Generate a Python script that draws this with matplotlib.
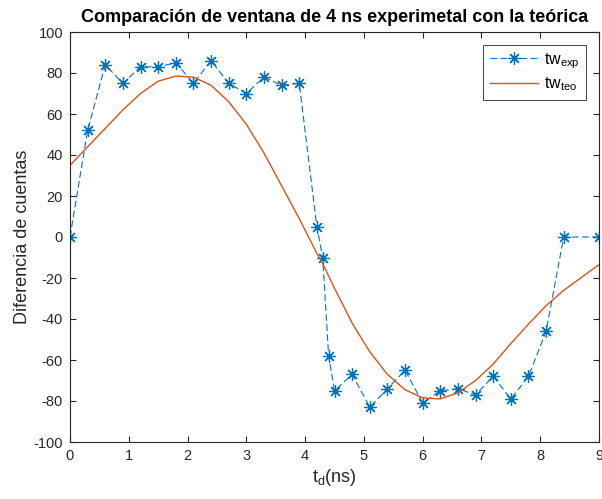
import matplotlib
matplotlib.use("Agg")
import matplotlib.pyplot as plt

plt.rcParams['font.family'] = ['Liberation Sans', 'DejaVu Sans']
plt.rcParams['axes.unicode_minus'] = False

# Delay times (ns)
td = [0, 0.3, 0.6, 0.9, 1.2, 1.5, 1.8, 2.1, 2.4, 2.7, 3.0, 3.3, 3.6, 3.9,
      4.2, 4.3, 4.4, 4.5, 4.8, 5.1, 5.4, 5.7, 6.0, 6.3, 6.6, 6.9, 7.2, 7.5,
      7.8, 8.1, 8.4, 9.0]

# Measured count difference
tw_exp = [0, 52, 84, 75, 83, 83, 85, 75, 86, 75, 70, 78, 74, 75,
          5, -10, -58, -75, -67, -83, -74, -65, -81, -75, -74, -77, -68, -79,
          -68, -46, 0, 0]

# Theoretical count difference
tw_teo = [35, 44, 53, 62, 70, 76, 78.5, 78, 74, 66, 55, 41, 25, 9,
          -8, -13, -19, -25, -42, -56, -67, -74.5, -78.5, -79, -76, -70, -62, -52,
          -42.5, -33.5, -26, -13.5]

fig = plt.figure(figsize=(6.02, 4.99), dpi=100)
ax = fig.add_axes([70 / 602, 57 / 499, 529 / 602, 410 / 499])

# asterisk marker: eight spokes (a plus and a cross)
ast = (8, 2, 0)
ax.plot(td, tw_exp, linestyle='--', color='#0072BD', marker=ast, markersize=9,
        markeredgewidth=0.9, linewidth=0.8, dashes=(6, 3), label=r'tw$_\mathregular{exp}$')
ax.plot(td, tw_teo, linestyle='-', color='#D95319', linewidth=1.0,
        label=r'tw$_\mathregular{teo}$')

ax.set_xlim(0, 9)
ax.set_ylim(-100, 100)
ax.set_xticks(range(0, 10))
ax.set_yticks(range(-100, 101, 20))
ax.tick_params(direction='in', top=True, right=True, length=4, width=0.8,
               labelsize=10.5, colors='#262626', pad=5)
for s in ax.spines.values():
    s.set_color('#262626')
    s.set_linewidth(0.8)

ax.set_title('Comparación de ventana de 4 ns experimetal con la teórica',
             fontsize=13, fontweight='bold', pad=7)
ax.set_xlabel(r't$_\mathregular{d}$(ns)', fontsize=13, color='#262626', labelpad=3)
ax.set_ylabel('Diferencia de cuentas', fontsize=13, color='#262626', labelpad=2)

leg = ax.legend(loc='upper right', fontsize=11.5, fancybox=False, framealpha=1,
                edgecolor='#262626', borderaxespad=0.8, handlelength=3.0,
                borderpad=0.4, labelspacing=0.3, handletextpad=0.4)
leg.get_frame().set_linewidth(0.6)

fig.savefig('out.png', dpi=100)
